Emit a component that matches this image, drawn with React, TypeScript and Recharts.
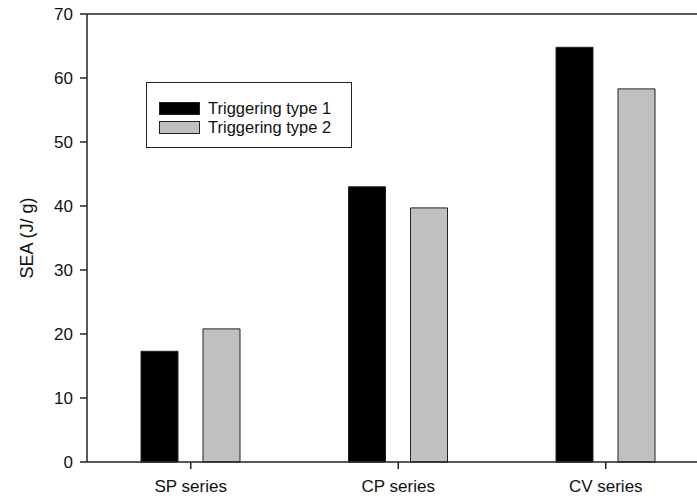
import { BarChart, Bar, XAxis, YAxis, ReferenceLine } from 'recharts';

const categories = ['SP series', 'CP series', 'CV series'];
const type1Values = [17.3, 43.0, 64.8];
const type2Values = [20.8, 39.7, 58.3];
const yTicks = [0, 10, 20, 30, 40, 50, 60, 70];

const seriesInfo = [
  { key: 'type1', label: 'Triggering type 1', fill: '#000000' },
  { key: 'type2', label: 'Triggering type 2', fill: '#c0c0c0' },
];

const data = categories.map((name, i) => ({
  name,
  type1: type1Values[i],
  type2: type2Values[i],
}));

const FONT = '"Liberation Sans", Arial, sans-serif';
const AXIS = '#222';

// boxed legend sitting inside the plot area, upper left
function BoxLegend() {
  return (
    <div
      style={{
        position: 'absolute',
        left: 146,
        top: 82,
        border: `1.5px solid ${AXIS}`,
        background: '#fff',
        width: 206,
        height: 66,
        boxSizing: 'border-box',
        padding: '16px 0 0 12px',
        fontFamily: FONT,
        fontSize: 16.5,
        color: '#111',
      }}
    >
      {seriesInfo.map((it) => (
        <div key={it.key} style={{ display: 'flex', alignItems: 'center', height: 19 }}>
          <span
            style={{
              display: 'inline-block',
              width: 41,
              height: 13,
              background: it.fill,
              border: `1px solid ${AXIS}`,
              boxSizing: 'border-box',
              marginRight: 8,
            }}
          />
          <span>{it.label}</span>
        </div>
      ))}
    </div>
  );
}

export default function App() {
  return (
    <div
      style={{
        position: 'absolute',
        left: 0,
        top: 0,
        width: 697,
        height: 499,
        overflow: 'hidden',
        background: '#fff',
      }}
    >
      <BarChart
        width={720}
        height={499}
        data={data}
        margin={{ top: 14, right: 10.5, left: 0, bottom: 0 }}
        barSize={37}
        barGap={25}
      >
        <XAxis
          dataKey="name"
          height={37}
          axisLine={{ stroke: AXIS, strokeWidth: 1.5 }}
          tickLine={{ stroke: AXIS, strokeWidth: 1.5 }}
          tickSize={7}
          tickMargin={11}
          tick={{ fill: '#111', fontSize: 17, fontFamily: FONT }}
        />
        <YAxis
          width={87}
          domain={[0, 70]}
          ticks={yTicks}
          interval={0}
          axisLine={{ stroke: AXIS, strokeWidth: 1.5 }}
          tickLine={{ stroke: AXIS, strokeWidth: 1.5 }}
          tickSize={7}
          tickMargin={7}
          tick={{ fill: '#111', fontSize: 17, fontFamily: FONT }}
          label={{
            value: 'SEA (J/ g)',
            angle: -90,
            position: 'insideLeft',
            offset: 27,
            style: { textAnchor: 'middle', fill: '#111', fontSize: 18, fontFamily: FONT },
          }}
        />
        <ReferenceLine y={70} stroke={AXIS} strokeWidth={1.5} />
        {seriesInfo.map((s) => (
          <Bar
            key={s.key}
            dataKey={s.key}
            name={s.label}
            fill={s.fill}
            stroke={AXIS}
            strokeWidth={1}
            isAnimationActive={false}
          />
        ))}
      </BarChart>
      <BoxLegend />
    </div>
  );
}
